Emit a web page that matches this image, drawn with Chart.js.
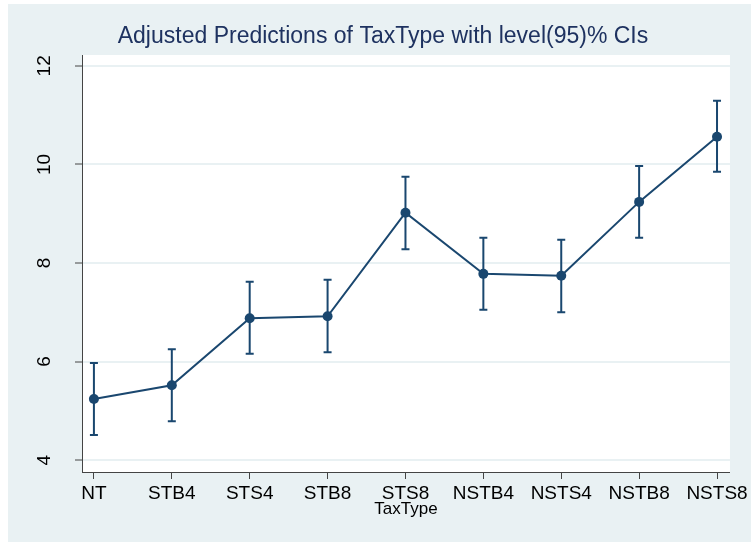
<!DOCTYPE html>
<html>
<head>
<meta charset="utf-8">
<script src="https://cdn.jsdelivr.net/npm/chart.js@4/dist/chart.umd.min.js"></script>
<style>
  html, body { margin: 0; padding: 0; background: #fff; }
  #wrap { width: 751px; height: 542px; }
</style>
</head>
<body>
<div id="wrap"><canvas id="marginsGraph"></canvas></div>
<script>
// tax type categories along the x axis
var categories = ['NT', 'STB4', 'STS4', 'STB8', 'STS8', 'NSTB4', 'NSTS4', 'NSTB8', 'NSTS8'];
// adjusted predictions + 95% CI bounds
var margins = [5.24, 5.52, 6.88, 6.92, 9.02, 7.78, 7.74, 9.24, 10.56];
var ciLow   = [4.51, 4.79, 6.16, 6.19, 8.28, 7.05, 7.00, 8.51, 9.85];
var ciHigh  = [5.97, 6.25, 7.62, 7.66, 9.75, 8.51, 8.47, 9.97, 11.29];
var yTicks  = [4, 6, 8, 10, 12];

var navy = '#1a476f';
var bgBlue = '#e9f1f3';

//background, title and the CI bars
var stataLook = {
    id: 'stataLook',
    beforeDraw: function(chart) {
        var ctx = chart.ctx, a = chart.chartArea;
        ctx.save();
        ctx.fillStyle = '#ffffff';
        ctx.fillRect(0, 0, chart.width, chart.height);
        ctx.fillStyle = bgBlue;
        ctx.fillRect(8, 4, chart.width - 8, chart.height - 4);
        ctx.fillStyle = '#ffffff';
        ctx.fillRect(a.left, a.top, a.right - a.left, a.bottom - a.top);
        ctx.restore();
    },
    beforeDatasetsDraw: function(chart) {
        var ctx = chart.ctx;
        var xs = chart.scales.x, ys = chart.scales.y;
        ctx.save();
        ctx.strokeStyle = navy;
        ctx.lineWidth = 2;
        for (var i = 0; i < categories.length; i++) {
            var x = xs.getPixelForValue(i);
            var lo = ys.getPixelForValue(ciLow[i]);
            var hi = ys.getPixelForValue(ciHigh[i]);
            ctx.beginPath();
            ctx.moveTo(x, lo); ctx.lineTo(x, hi);
            ctx.moveTo(x - 4, lo); ctx.lineTo(x + 4, lo);
            ctx.moveTo(x - 4, hi); ctx.lineTo(x + 4, hi);
            ctx.stroke();
        }
        ctx.restore();
    },
    afterDraw: function(chart) {
        var ctx = chart.ctx;
        ctx.save();
        ctx.fillStyle = '#1e3260';
        ctx.font = '23px "Liberation Sans", Arial, sans-serif';
        ctx.textAlign = 'center';
        ctx.textBaseline = 'middle';
        ctx.fillText('Adjusted Predictions of TaxType with level(95)% CIs', 383, 37);
        ctx.restore();
    }
};

const ctx1 = document.getElementById('marginsGraph');
var marginsChart = new Chart(ctx1, {
    type: 'line',
    data: {
        datasets: [{
            label: 'Adjusted prediction',
            data: margins.map(function(v, i) { return {x: i, y: v}; }),
            borderColor: navy,
            backgroundColor: navy,
            borderWidth: 2,
            pointRadius: 5,
            pointBorderWidth: 0,
            pointBackgroundColor: navy,
            tension: 0
        }]
    },
    options: {
        responsive: true,
        maintainAspectRatio: false,
        animation: false,
        layout: { padding: { top: 55, right: 18, left: 0, bottom: 0 } },
        plugins: {
            legend: { display: false },
            tooltip: { enabled: false },
            title: { display: false }
        },
        scales: {
            x: {
                type: 'linear',
                min: -0.153,
                max: 8.166,
                afterFit: function(s) { s.height = 70; },
                afterBuildTicks: function(s) {
                    s.ticks = categories.map(function(c, i) { return {value: i}; });
                },
                ticks: {
                    autoSkip: false,
                    maxRotation: 0,
                    padding: 3,
                    color: '#000',
                    font: { family: '"Liberation Sans", Arial, sans-serif', size: 19 },
                    callback: function(v) { return categories[v]; }
                },
                grid: { drawOnChartArea: false, tickLength: 7, tickColor: '#444', tickWidth: 1 },
                border: { color: '#444', width: 1 },
                title: {
                    display: true,
                    text: 'TaxType',
                    color: '#000',
                    font: { family: '"Liberation Sans", Arial, sans-serif', size: 17 },
                    padding: { top: 0, bottom: 22 }
                }
            },
            y: {
                min: 3.76,
                max: 12.22,
                afterFit: function(s) { s.width = 82; },
                afterBuildTicks: function(s) {
                    s.ticks = yTicks.map(function(v) { return {value: v}; });
                },
                ticks: {
                    autoSkip: false,
                    minRotation: 90,
                    maxRotation: 90,
                    crossAlign: 'center',
                    padding: 20,
                    color: '#000',
                    font: { family: '"Liberation Sans", Arial, sans-serif', size: 19 }
                },
                grid: { color: bgBlue, lineWidth: 2, tickLength: 7, tickColor: '#444', tickWidth: 1 },
                border: { color: '#444', width: 1 }
            }
        }
    },
    plugins: [stataLook]
});
</script>
</body>
</html>
